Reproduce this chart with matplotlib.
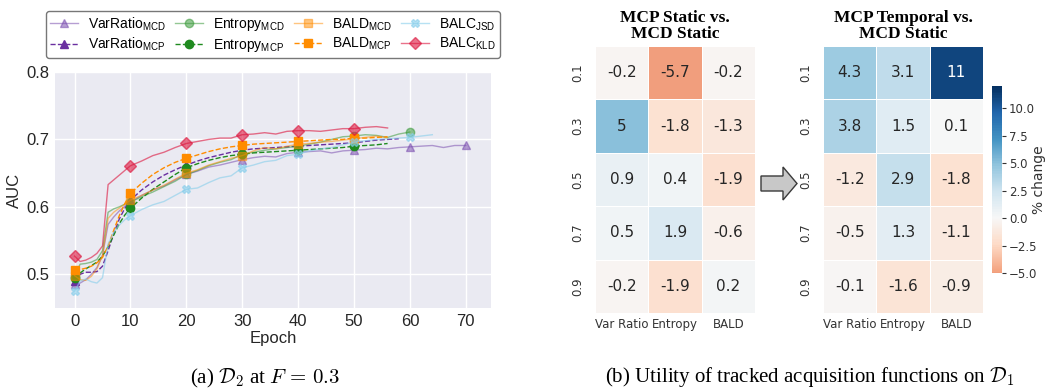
import numpy as np
import matplotlib
matplotlib.use("Agg")
import matplotlib.pyplot as plt
import seaborn as sns
from matplotlib.patches import Polygon
from matplotlib.font_manager import FontProperties

# ---- panel (a): AUC per epoch ----
EPOCHS = [0, 1, 2, 3, 4, 5, 6, 7, 8, 9, 10] + list(range(12, 71, 2))

vr_mcd = [0.485, 0.487, 0.492, 0.500, 0.510, 0.528, 0.574, 0.585, 0.594, 0.601, 0.607,
          0.617, 0.625, 0.631, 0.640, 0.648, 0.653, 0.659, 0.662, 0.666, 0.670,
          0.673, 0.675, 0.674, 0.679, 0.681, 0.682, 0.683, 0.680, 0.683, 0.684,
          0.685, 0.687, 0.686, 0.688, 0.689, 0.690, 0.691, 0.688, 0.691, 0.691]
vr_mcp = [0.490, 0.500, 0.503, 0.503, 0.504, 0.512, 0.535, 0.560, 0.582, 0.598, 0.610,
          0.625, 0.637, 0.647, 0.655, 0.662, 0.668, 0.673, 0.677, 0.681, 0.684,
          0.686, 0.687, 0.688, 0.689, 0.690, 0.691, 0.692, 0.693, 0.694, 0.695,
          0.697, 0.699, 0.700, 0.701]
ent_mcd = [0.497, 0.515, 0.516, 0.518, 0.522, 0.535, 0.592, 0.597, 0.600, 0.604, 0.607,
           0.615, 0.622, 0.630, 0.638, 0.648, 0.654, 0.661, 0.666, 0.670, 0.678,
           0.681, 0.684, 0.686, 0.688, 0.690, 0.693, 0.696, 0.700, 0.704, 0.705,
           0.707, 0.706, 0.703, 0.708, 0.711]
ent_mcp = [0.494, 0.502, 0.508, 0.513, 0.518, 0.527, 0.541, 0.558, 0.575, 0.588, 0.598,
           0.613, 0.626, 0.637, 0.648, 0.658, 0.664, 0.669, 0.673, 0.676, 0.678,
           0.680, 0.681, 0.682, 0.683, 0.684, 0.685, 0.686, 0.687, 0.688, 0.690,
           0.691, 0.692, 0.694]
bald_mcd = [0.498, 0.492, 0.491, 0.497, 0.508, 0.528, 0.583, 0.592, 0.598, 0.604, 0.610,
            0.617, 0.625, 0.632, 0.641, 0.650, 0.655, 0.662, 0.667, 0.672, 0.676,
            0.683, 0.688, 0.686, 0.690, 0.693, 0.694, 0.696, 0.697, 0.699, 0.701,
            0.703, 0.705, 0.702]
bald_mcp = [0.506, 0.507, 0.509, 0.512, 0.517, 0.525, 0.542, 0.565, 0.587, 0.605, 0.620,
            0.635, 0.648, 0.658, 0.666, 0.672, 0.677, 0.682, 0.686, 0.689, 0.691,
            0.693, 0.694, 0.695, 0.696, 0.697, 0.698, 0.699, 0.700, 0.700, 0.702,
            0.702, 0.703, 0.704]
balc_jsd = [0.475, 0.490, 0.493, 0.489, 0.487, 0.495, 0.545, 0.562, 0.573, 0.581, 0.587,
            0.596, 0.603, 0.608, 0.617, 0.626, 0.628, 0.636, 0.643, 0.646, 0.658,
            0.662, 0.667, 0.669, 0.676, 0.678, 0.683, 0.686, 0.688, 0.692, 0.696,
            0.698, 0.700, 0.701, 0.702, 0.703, 0.705, 0.707]
balc_kld = [0.527, 0.519, 0.521, 0.525, 0.531, 0.542, 0.633, 0.640, 0.647, 0.654, 0.661,
            0.668, 0.676, 0.681, 0.688, 0.694, 0.697, 0.700, 0.702, 0.702, 0.707,
            0.708, 0.710, 0.708, 0.712, 0.713, 0.713, 0.712, 0.714, 0.716, 0.716,
            0.718, 0.719, 0.717]

# ---- panel (b): % change heatmaps ----
FRACTIONS = ["0.1", "0.3", "0.5", "0.7", "0.9"]
ACQ_FUNCS = ["Var Ratio", "Entropy", "BALD"]
mcp_static = [[-0.2, -5.7, -0.2],
              [5.0, -1.8, -1.3],
              [0.9, 0.4, -1.9],
              [0.5, 1.9, -0.6],
              [-0.2, -1.9, 0.2]]
mcp_temporal = [[4.3, 3.1, 11.0],
                [3.8, 1.5, 0.1],
                [-1.2, 2.9, -1.8],
                [-0.5, 1.3, -1.1],
                [-0.1, -1.6, -0.9]]

plt.rcParams["mathtext.fontset"] = "dejavusans"
W, H = 1047, 388
fig = plt.figure(figsize=(W / 100, H / 100), dpi=100)


def box(x0, y0, x1, y1):
    # pixel box (top-left origin) -> figure fraction rect
    return [x0 / W, 1 - y1 / H, (x1 - x0) / W, (y1 - y0) / H]


sans = "Liberation Sans"
ax = fig.add_axes(box(55, 72, 491, 308))
ax.set_facecolor("#EAEAF2")
for s in ax.spines.values():
    s.set_visible(False)
ax.grid(color="white", linewidth=1.0)
ax.set_axisbelow(True)

series = [
    (vr_mcd, "VarRatio", "MCD", "#7b4fb0", "-", "^", 0.55),
    (vr_mcp, "VarRatio", "MCP", "#6a2fa0", "--", "^", 1.0),
    (ent_mcd, "Entropy", "MCD", "#3a9a3a", "-", "o", 0.55),
    (ent_mcp, "Entropy", "MCP", "#1f8a1f", "--", "o", 1.0),
    (bald_mcd, "BALD", "MCD", "#ff8c00", "-", "s", 0.5),
    (bald_mcp, "BALD", "MCP", "#ff8c00", "--", "s", 1.0),
    (balc_jsd, "BALC", "JSD", "#87ceeb", "-", "X", 0.6),
    (balc_kld, "BALC", "KLD", "#dc143c", "-", "D", 0.6),
]
marks = [0, 10, 15, 20, 25, 30, 35, 40]
handles = []
for vals, name, sub, col, ls, mk, al in series:
    x = EPOCHS[:len(vals)]
    me = [m for m in marks if m < len(vals)]
    ln, = ax.plot(x, vals, color=col, linestyle=ls, marker=mk, markevery=me,
                  markersize=6, linewidth=1.0, alpha=al,
                  label=name + r"$_{\mathregular{" + sub + "}}$")
    handles.append(ln)

ax.set_xlim(-3.5, 74.5)
ax.set_ylim(0.45, 0.8)
ax.set_xticks([0, 10, 20, 30, 40, 50, 60, 70])
ax.set_yticks([0.5, 0.6, 0.7, 0.8])
ax.tick_params(length=0, labelsize=12, colors="#262626", pad=4)
for lab in ax.get_xticklabels() + ax.get_yticklabels():
    lab.set_fontfamily(sans)
ax.set_xlabel("Epoch", fontsize=12, family=sans, color="#262626", labelpad=2)
ax.set_ylabel("AUC", fontsize=12, family=sans, color="#262626", labelpad=3)

leg = fig.legend(handles=handles, loc="upper center", ncol=4,
                 bbox_to_anchor=(273 / W, 1 - 4 / H),
                 prop=FontProperties(family=sans, size=10),
                 frameon=True, edgecolor="#555555", fancybox=True,
                 columnspacing=0.7, handletextpad=0.7, labelspacing=0.25,
                 borderpad=0.3, handlelength=2.0)
leg.get_frame().set_linewidth(1.0)

# ---- heatmaps ----
ax1 = fig.add_axes(box(595, 46, 755, 313))
ax2 = fig.add_axes(box(823, 46, 983, 313))
cax = fig.add_axes(box(992, 86, 1002, 273))

hm_kw = dict(cmap="RdBu", center=0, vmin=-5, vmax=12, annot=True,
             annot_kws={"fontsize": 11}, linewidths=0.5, linecolor="white",
             xticklabels=ACQ_FUNCS, yticklabels=FRACTIONS)
sns.heatmap(np.array(mcp_static), ax=ax1, cbar=False, **hm_kw)
sns.heatmap(np.array(mcp_temporal), ax=ax2, cbar_ax=cax,
            cbar_kws={"ticks": [-5, -2.5, 0, 2.5, 5, 7.5, 10]}, **hm_kw)

for a, ttl in [(ax1, "MCP Static vs.\nMCD Static"), (ax2, "MCP Temporal vs.\nMCD Static")]:
    a.set_title(ttl, fontsize=12.5, fontweight="bold", family="Liberation Serif",
                linespacing=1.0, pad=6)
    a.tick_params(length=0, labelsize=8.5, colors="#333333")
    a.tick_params(axis="y", pad=8)
    for lab in a.get_xticklabels():
        lab.set_rotation(0)
    for lab in a.get_yticklabels():
        lab.set_rotation(90)
        lab.set_va("center")

cax.tick_params(labelsize=8.5, length=3, width=0.8, colors="#333333", pad=2)
fig.text(1039 / W, 1 - 180 / H, "% change", rotation=90, ha="center",
         va="center", fontsize=10, color="#333333")

# grey arrow between heatmaps (pixel coordinates)
ay = 183.5
pts = [(761, ay - 7.5), (783, ay - 7.5), (783, ay - 16.5), (797, ay),
       (783, ay + 16.5), (783, ay + 7.5), (761, ay + 7.5)]
arrow = Polygon([(px / W, 1 - py / H) for px, py in pts], closed=True,
                transform=fig.transFigure, facecolor="#c8c8c8",
                edgecolor="#3a3a3a", linewidth=1.0)
fig.patches.append(arrow)

# captions
fig.text(265 / W, 1 - 378 / H, r"(a) $\mathcal{D}_2$ at $F\,=\,0.3$",
         ha="center", va="center", fontsize=15, family="Liberation Serif",
         math_fontfamily="cm")
fig.text(810 / W, 1 - 377 / H,
         r"(b) Utility of tracked acquisition functions on $\mathcal{D}_1$",
         ha="center", va="center", fontsize=15, family="Liberation Serif",
         math_fontfamily="cm")

fig.savefig("out.png", dpi=100)
